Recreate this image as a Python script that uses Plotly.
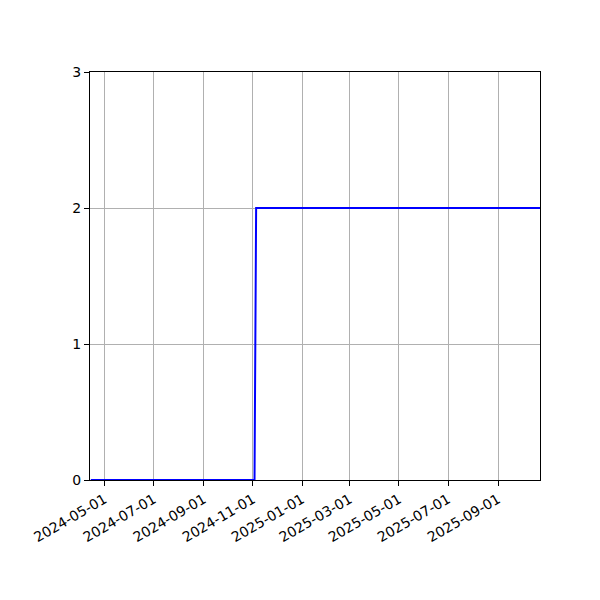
import plotly.graph_objects as go

# step series: count jumps from 0 to 2 at the start of November 2024
dates = ["2024-04-14", "2024-11-03", "2024-11-05", "2025-10-31"]
counts = [0, 0, 2, 2]

tick_dates = ["2024-05-01", "2024-07-01", "2024-09-01", "2024-11-01", "2025-01-01",
              "2025-03-01", "2025-05-01", "2025-07-01", "2025-09-01"]
y_ticks = [0, 1, 2, 3]

fig = go.Figure()
fig.add_trace(go.Scatter(
    x=dates, y=counts, mode="lines",
    line=dict(color="#0000ff", width=2),
    showlegend=False,
))

axis_style = dict(
    showline=True, linecolor="black", linewidth=1.1, mirror=True,
    showgrid=True, gridcolor="#b0b0b0", gridwidth=1.1,
    ticks="outside", ticklen=5, tickwidth=1.1, tickcolor="black",
    zeroline=False, layer="below traces",
    tickfont=dict(family="DejaVu Sans", size=14, color="black"),
)

fig.update_xaxes(
    type="date", range=["2024-04-13", "2025-10-23"],
    tickvals=tick_dates, ticktext=tick_dates, tickangle=-30,
    automargin=False,
    **axis_style,
)
fig.update_yaxes(range=[0, 3], tickvals=y_ticks, automargin=False, **axis_style)

# page body adds 8px, so margins are shifted to keep the axes where they belong
fig.update_layout(
    width=600, height=600,
    margin=dict(l=82, r=68, t=64, b=128),
    plot_bgcolor="white", paper_bgcolor="white",
)

fig.write_html("out.html")
